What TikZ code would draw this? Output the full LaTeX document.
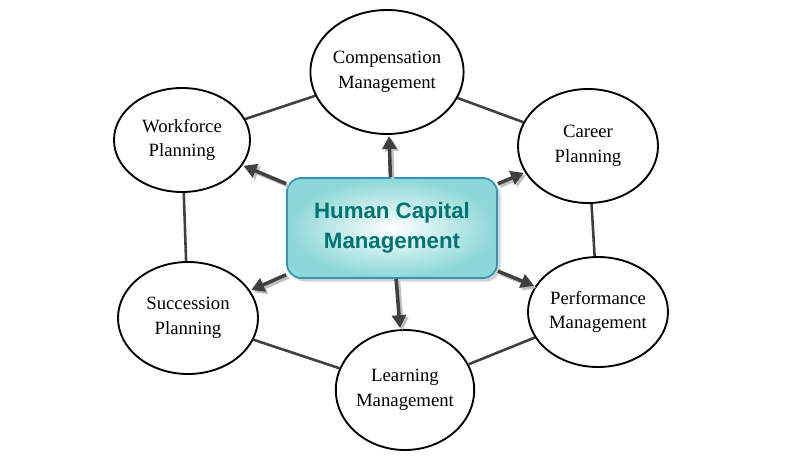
\documentclass[tikz,border=0pt]{standalone}
\usepackage{fontspec}
\setmainfont{Liberation Serif}
\setsansfont{Liberation Sans}
\usetikzlibrary{shapes.geometric,arrows.meta,shadows}
\pgfdeclarelayer{bg}
\pgfsetlayers{bg,main}
\begin{document}
\begin{tikzpicture}[x=0.03cm,y=-0.03cm,
  ell/.style={ellipse,draw=black,line width=1.6pt,fill=white,inner sep=0pt,align=center,font=\fontsize{16}{21}\selectfont},
  link/.style={draw=black!75,line width=2.2pt},
  arr/.style={draw=black!75,line width=3pt,-{Triangle[length=11pt,width=12pt]},shorten >=1pt,
     preaction={draw=black!25,line width=3pt,transform canvas={xshift=2pt,yshift=-2pt}}}]
\useasboundingbox (0,0) rectangle (786,469);
\node[ell,minimum width=4.08cm,minimum height=3.72cm] (comp) at (387,72) {Compensation\\Management};
\node[ell,minimum width=4.08cm,minimum height=3.12cm] (work) at (182,140) {Workforce\\Planning};
\node[ell,minimum width=4.2cm,minimum height=3.42cm] (car) at (588,146) {Career\\Planning};
\node[ell,minimum width=4.2cm,minimum height=3.36cm] (succ) at (188,318) {Succession\\Planning};
\node[ell,minimum width=4.2cm,minimum height=3.3cm] (perf) at (598,312) {Performance\\Management};
\node[ell,minimum width=3.9cm,minimum height=3.6cm] (learn) at (405,390) {Learning\\Management};
\begin{pgfonlayer}{bg}
\draw[link] (work) -- (comp);
\draw[link] (comp) -- (car);
\draw[link] (car) -- (perf);
\draw[link] (perf) -- (learn);
\draw[link] (learn) -- (succ);
\draw[link] (succ) -- (work);
\end{pgfonlayer}
\node[draw=cyan!45!teal,line width=1.5pt,rounded corners=12pt,minimum width=6.3cm,minimum height=3cm,
  inner color=white,outer color=cyan!30!teal!45,align=center,
  font=\sffamily\bfseries\fontsize{19}{26}\selectfont,text=teal!90!black,
  drop shadow={shadow xshift=3pt,shadow yshift=-3pt,fill=black!35}] (box) at (392,228) {Human Capital\\Management};
\draw[arr] (box) -- (comp);
\draw[arr] (box) -- (work);
\draw[arr] (box) -- (car);
\draw[arr] (box) -- (perf);
\draw[arr] (box) -- (learn);
\draw[arr] (box) -- (succ);
\end{tikzpicture}
\end{document}
